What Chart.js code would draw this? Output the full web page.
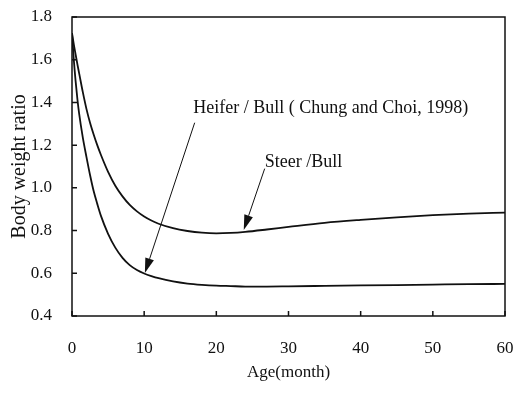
<!DOCTYPE html>
<html>
<head>
<meta charset="utf-8">
<script src="https://cdn.jsdelivr.net/npm/chart.js@4.4.1/dist/chart.umd.min.js"></script>
<style>
  html, body { margin: 0; padding: 0; background: #fff; }
  #wrap { width: 520px; height: 407px; }
</style>
</head>
<body>
<div id="wrap"><canvas id="myChart" width="520" height="407"></canvas></div>
<script>
// Age in months, shared by both curves
const months = [0, 0.25, 0.5, 0.75, 1, 1.5, 2, 2.5, 3, 3.5, 4, 5, 6, 7, 8, 9, 10, 11, 12, 14, 16, 18, 20, 22, 24,
    27, 30, 35, 40, 45, 50, 55, 60];

// Steer / Bull body weight ratio
const steerBull = [1.724, 1.672, 1.625, 1.578, 1.535, 1.448, 1.37, 1.305, 1.25, 1.2, 1.155, 1.075, 1.01, 0.96,
    0.92, 0.89, 0.866, 0.847, 0.832, 0.811, 0.798, 0.79, 0.787, 0.789, 0.794, 0.805, 0.817, 0.836, 0.85, 0.862,
    0.872, 0.879, 0.884];

// Heifer / Bull body weight ratio (Chung and Choi, 1998)
const heiferBull = [1.724, 1.6, 1.5, 1.415, 1.345, 1.235, 1.145, 1.06, 0.985, 0.925, 0.87, 0.785, 0.72, 0.672,
    0.638, 0.615, 0.599, 0.587, 0.577, 0.562, 0.552, 0.546, 0.542, 0.54, 0.538, 0.538, 0.539, 0.541, 0.543, 0.545,
    0.547, 0.549, 0.55];

const xTicks = [0, 10, 20, 30, 40, 50, 60];
const yTicks = [0.4, 0.6, 0.8, 1.0, 1.2, 1.4, 1.6, 1.8];

// labels with arrows, in data units: text anchor, arrow tail, arrow tip
const notes = [
    { text: 'Heifer / Bull ( Chung and Choi, 1998)', at: [16.8, 1.374], from: [17.0, 1.305], to: [10.1, 0.601] },
    { text: 'Steer /Bull', at: [26.7, 1.121], from: [26.7, 1.09], to: [23.8, 0.803] }
];

const FONT = '"Liberation Serif", "Times New Roman", serif';

function toPoints(values) {
    return months.map((m, i) => ({ x: m, y: values[i] }));
}

// frame around the plot plus inward tick marks
const framePlugin = {
    id: 'frame',
    afterDraw(chart) {
        const ctx = chart.ctx;
        const a = chart.chartArea;
        const xs = chart.scales.x;
        const ys = chart.scales.y;
        ctx.save();
        ctx.strokeStyle = '#111';
        ctx.lineWidth = 1.5;
        ctx.strokeRect(a.left, a.top, a.right - a.left, a.bottom - a.top);
        ctx.beginPath();
        xTicks.forEach(t => {
            const px = xs.getPixelForValue(t);
            ctx.moveTo(px, a.bottom);
            ctx.lineTo(px, a.bottom - 5);
        });
        yTicks.forEach(t => {
            const py = ys.getPixelForValue(t);
            ctx.moveTo(a.left, py);
            ctx.lineTo(a.left + 5, py);
        });
        ctx.stroke();
        ctx.restore();
    }
};

// text labels and arrows pointing at the curves
const notesPlugin = {
    id: 'notes',
    afterDatasetsDraw(chart) {
        const ctx = chart.ctx;
        const xs = chart.scales.x;
        const ys = chart.scales.y;
        ctx.save();
        ctx.fillStyle = '#111';
        ctx.strokeStyle = '#111';
        ctx.font = '18px ' + FONT;
        ctx.textBaseline = 'middle';
        ctx.textAlign = 'left';
        notes.forEach(n => {
            ctx.fillText(n.text, xs.getPixelForValue(n.at[0]), ys.getPixelForValue(n.at[1]));
            const x1 = xs.getPixelForValue(n.from[0]), y1 = ys.getPixelForValue(n.from[1]);
            const x2 = xs.getPixelForValue(n.to[0]), y2 = ys.getPixelForValue(n.to[1]);
            const ang = Math.atan2(y2 - y1, x2 - x1);
            const headLen = 15, headW = 4.5;
            const bx = x2 - headLen * Math.cos(ang), by = y2 - headLen * Math.sin(ang);
            ctx.lineWidth = 1;
            ctx.beginPath();
            ctx.moveTo(x1, y1);
            ctx.lineTo(bx, by);
            ctx.stroke();
            ctx.beginPath();
            ctx.moveTo(x2, y2);
            ctx.lineTo(bx + headW * Math.sin(ang), by - headW * Math.cos(ang));
            ctx.lineTo(bx - headW * Math.sin(ang), by + headW * Math.cos(ang));
            ctx.closePath();
            ctx.fill();
        });
        ctx.restore();
    }
};

const ctx = document.getElementById('myChart').getContext('2d');
new Chart(ctx, {
    type: 'scatter',
    data: {
        datasets: [
            {
                label: 'Steer / Bull',
                data: toPoints(steerBull),
                showLine: true,
                borderColor: '#111',
                borderWidth: 1.8,
                pointRadius: 0,
                cubicInterpolationMode: 'monotone',
                fill: false
            },
            {
                label: 'Heifer / Bull',
                data: toPoints(heiferBull),
                showLine: true,
                borderColor: '#111',
                borderWidth: 1.8,
                pointRadius: 0,
                cubicInterpolationMode: 'monotone',
                fill: false
            }
        ]
    },
    options: {
        responsive: false,
        animation: false,
        layout: { padding: { left: 0, right: 15, top: 17, bottom: 0 } },
        plugins: {
            legend: { display: false },
            tooltip: { enabled: false }
        },
        scales: {
            x: {
                type: 'linear',
                min: 0,
                max: 60,
                afterBuildTicks: scale => { scale.ticks = xTicks.map(v => ({ value: v })); },
                afterFit: scale => {
                    scale.height = 91;
                    scale.paddingLeft = 0;
                    scale.paddingRight = 0;
                },
                grid: { display: false, drawTicks: false },
                border: { display: false },
                ticks: {
                    padding: 22,
                    color: '#111',
                    font: { family: FONT, size: 17 },
                    maxRotation: 0
                },
                title: {
                    display: true,
                    text: 'Age(month)',
                    color: '#111',
                    font: { family: FONT, size: 17 },
                    padding: { top: 0, bottom: 24 }
                }
            },
            y: {
                type: 'linear',
                min: 0.4,
                max: 1.8,
                afterBuildTicks: scale => { scale.ticks = yTicks.map(v => ({ value: v })); },
                afterFit: scale => {
                    scale.width = 72;
                    scale.paddingTop = 0;
                    scale.paddingBottom = 0;
                },
                grid: { display: false, drawTicks: false },
                border: { display: false },
                ticks: {
                    padding: 20,
                    color: '#111',
                    font: { family: FONT, size: 17 },
                    callback: v => v.toFixed(1)
                },
                title: {
                    display: true,
                    text: 'Body weight ratio',
                    color: '#111',
                    font: { family: FONT, size: 20 },
                    padding: { top: 8, bottom: 0 }
                }
            }
        }
    },
    plugins: [framePlugin, notesPlugin]
});
</script>
</body>
</html>
